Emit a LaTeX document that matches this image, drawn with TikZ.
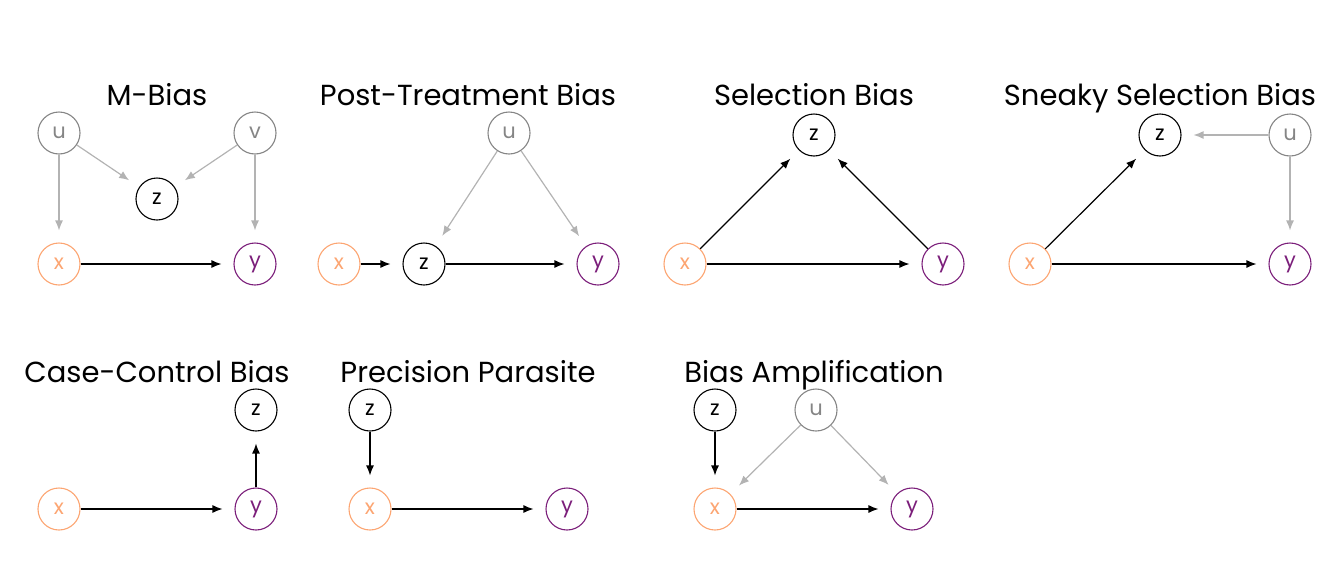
\documentclass[tikz,border=0pt]{standalone}
\usepackage{fontspec}
\setmainfont{Poppins}
\usetikzlibrary{arrows.meta}
\definecolor{xcol}{HTML}{FCA572}
\definecolor{ycol}{HTML}{7B1E7A}
\definecolor{ucol}{HTML}{858585}
\definecolor{acol}{HTML}{B3B3B3}
\tikzset{
  var/.style={circle,draw,line width=1.1pt,minimum size=42pt,inner sep=0pt,font=\fontsize{21}{21}\selectfont},
  xvar/.style={var,draw=xcol,text=xcol},
  yvar/.style={var,draw=ycol,text=ycol},
  uvar/.style={var,draw=ucol,text=ucol},
  zvar/.style={var,draw=black,text=black},
  title/.style={anchor=base,inner sep=0pt,font=\fontsize{29}{29}\selectfont},
  edge/.style={line width=1.2pt,-{Latex[length=10pt,width=8pt]},shorten >=12pt},
  gedge/.style={edge,draw=acol},
}
\begin{document}
\begin{tikzpicture}[x=1pt,y=-1pt]
\useasboundingbox (0,0) rectangle (1344,576);
% M-Bias
\node[title] (tm) at (157,105) {M-Bias};
\node[uvar] (mu) at (59,133) {u};
\node[uvar] (mv) at (255,133) {v};
\node[zvar] (mz) at (157,199) {z};
\node[xvar] (mx) at (59,264) {x};
\node[yvar] (my) at (255,264) {y};
\draw[gedge] (mu) -- (mz);
\draw[gedge] (mv) -- (mz);
\draw[gedge] (mu) -- (mx);
\draw[gedge] (mv) -- (my);
\draw[edge] (mx) -- (my);
% Post-Treatment Bias
\node[title] (tp) at (468,105) {Post-Treatment Bias};
\node[uvar] (pu) at (509,133) {u};
\node[xvar] (px) at (339,264) {x};
\node[zvar] (pz) at (424,264) {z};
\node[yvar] (py) at (598,264) {y};
\draw[gedge] (pu) -- (pz);
\draw[gedge] (pu) -- (py);
\draw[edge] (px) -- (pz);
\draw[edge] (pz) -- (py);
% Selection Bias
\node[title] (ts) at (814,105) {Selection Bias};
\node[zvar] (sz) at (814,135) {z};
\node[xvar] (sx) at (685,264) {x};
\node[yvar] (sy) at (943,264) {y};
\draw[edge] (sx) -- (sz);
\draw[edge] (sy) -- (sz);
\draw[edge] (sx) -- (sy);
% Sneaky Selection Bias
\node[title] (tn) at (1160,105) {Sneaky Selection Bias};
\node[zvar] (nz) at (1160,135) {z};
\node[uvar] (nu) at (1290,135) {u};
\node[xvar] (nx) at (1030,264) {x};
\node[yvar] (ny) at (1290,264) {y};
\draw[gedge] (nu) -- (nz);
\draw[gedge] (nu) -- (ny);
\draw[edge] (nx) -- (nz);
\draw[edge] (nx) -- (ny);
% Case-Control Bias
\node[title] (tc) at (157,382) {Case-Control Bias};
\node[zvar] (cz) at (256,410) {z};
\node[xvar] (cx) at (59,509) {x};
\node[yvar] (cy) at (256,509) {y};
\draw[edge] (cx) -- (cy);
\draw[edge] (cy) -- (cz);
% Precision Parasite
\node[title] (tr) at (468,382) {Precision Parasite};
\node[zvar] (rz) at (370,410) {z};
\node[xvar] (rx) at (370,509) {x};
\node[yvar] (ry) at (567,509) {y};
\draw[edge] (rz) -- (rx);
\draw[edge] (rx) -- (ry);
% Bias Amplification
\node[title] (ta) at (814,382) {Bias Amplification};
\node[zvar] (az) at (715,410) {z};
\node[uvar] (au) at (816,410) {u};
\node[xvar] (ax) at (715,509) {x};
\node[yvar] (ay) at (912,509) {y};
\draw[edge] (az) -- (ax);
\draw[gedge] (au) -- (ax);
\draw[gedge] (au) -- (ay);
\draw[edge] (ax) -- (ay);
\end{tikzpicture}
\end{document}
